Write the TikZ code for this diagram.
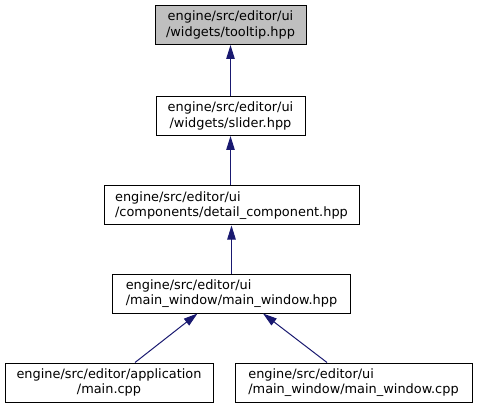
\documentclass[tikz,border=0pt]{standalone}
\usepackage{fontspec}
\setmainfont{DejaVu Sans}
\usepackage{xcolor}
\usepackage{tikz}
\usetikzlibrary{arrows.meta, positioning, calc}
\definecolor{dxnavy}{RGB}{25, 25, 112}
\definecolor{dxgrey}{RGB}{191, 191, 191}

\begin{document}
\begin{tikzpicture}[x=1pt, y=-1pt, >={Triangle[length=14pt, width=8.5pt]},
  filebox/.style={draw=black, line width=1pt, fill=white, inner sep=0pt,
    font=\fontsize{12.9}{15.5}\selectfont, minimum height=39pt},
  dep/.style={<-, dxnavy, line width=1pt}]

  \useasboundingbox (0,0) rectangle (477,409);

  % --- header files ---
  \node[filebox, fill=dxgrey, align=center, minimum width=151pt] (tooltip) at (230.5, 25)
    {engine/src/editor/ui\\/widgets/tooltip.hpp};
  \node[filebox, align=center, minimum width=149pt] (slider) at (230.5, 116)
    {engine/src/editor/ui\\/widgets/slider.hpp};
  \node[filebox, align=left, minimum width=255pt] (detail) at (231.5, 205.5)
    {engine/src/editor/ui\\/components/detail\_component.hpp};
  \node[filebox, align=left, minimum width=238pt] (mainhpp) at (231.5, 293.5)
    {engine/src/editor/ui\\/main\_window/main\_window.hpp};

  % --- sources ---
  \node[filebox, align=center, minimum width=208pt] (appmain) at (109, 382.5)
    {engine/src/editor/application\\/main.cpp};
  \node[filebox, align=left, minimum width=237pt] (maincpp) at (353.5, 382.5)
    {engine/src/editor/ui\\/main\_window/main\_window.cpp};

  % --- include edges ---
  \draw[dep] (tooltip) -- (slider);
  \draw[dep] (slider) -- (slider |- detail.north);
  \draw[dep] (detail) -- (mainhpp);
  \draw[dep] ([xshift=-34pt]mainhpp.south) -- ([xshift=26pt]appmain.north);
  \draw[dep] ([xshift=31.5pt]mainhpp.south) -- ([xshift=-26.5pt]maincpp.north);

\end{tikzpicture}
\end{document}
